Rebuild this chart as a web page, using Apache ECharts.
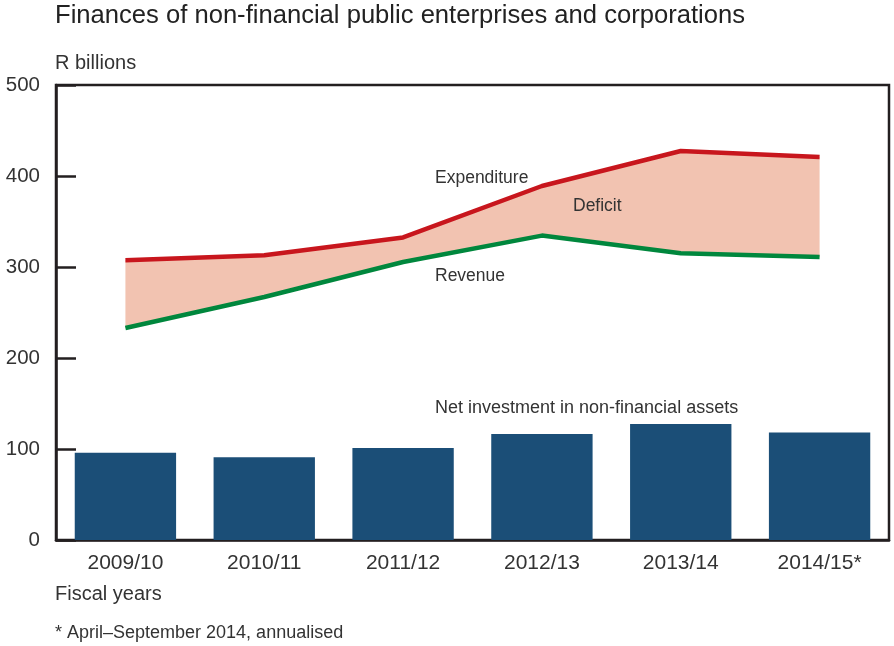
<!DOCTYPE html>
<html>
<head>
<meta charset="utf-8">
<script src="https://cdn.jsdelivr.net/npm/echarts@6/dist/echarts.min.js"></script>
<style>
  html, body { margin: 0; padding: 0; background: #fff; }
  #chart { width: 894px; height: 646px; }
</style>
</head>
<body>
<div id="chart"></div>
<script>
// Fiscal years on the category axis
var years = ['2009/10', '2010/11', '2011/12', '2012/13', '2013/14', '2014/15*'];
// R billions
var expenditure = [307.5, 313, 332.5, 389, 427.5, 421];
var revenue = [233, 267, 305.5, 334.5, 315, 311];
var netInvestment = [96, 91, 101, 116.5, 127.5, 118];
// Value-axis ticks
var yTicks = [0, 100, 200, 300, 400, 500];

// Deficit band = expenditure stacked on top of revenue
var deficit = expenditure.map(function (v, i) { return v - revenue[i]; });

var FONT = '"Liberation Sans", Arial, Helvetica, sans-serif';
var TEXT = '#333333';
var AXIS = '#231f20';

var chart = echarts.init(document.getElementById('chart'), null, { renderer: 'canvas' });

chart.setOption({
  animation: false,
  textStyle: { fontFamily: FONT },
  grid: {
    left: 56, right: 5, top: 85, bottom: 106,
    show: true, borderColor: AXIS, borderWidth: 2.5, backgroundColor: 'transparent'
  },
  xAxis: {
    type: 'category',
    data: years,
    boundaryGap: true,
    axisLine: { lineStyle: { color: AXIS, width: 2.5 } },
    axisTick: { inside: true, length: 10, lineStyle: { color: AXIS, width: 2.5 } },
    axisLabel: { color: TEXT, fontSize: 21, margin: 13, fontFamily: FONT },
    splitLine: { show: false }
  },
  yAxis: {
    type: 'value',
    min: yTicks[0],
    max: yTicks[yTicks.length - 1],
    interval: yTicks[1] - yTicks[0],
    axisLine: { show: true, lineStyle: { color: AXIS, width: 2.5 } },
    axisTick: { show: true, inside: true, length: 20, lineStyle: { color: AXIS, width: 2.5 } },
    axisLabel: { color: TEXT, fontSize: 20.5, margin: 16, fontFamily: FONT },
    splitLine: { show: false }
  },
  series: [
    {
      name: 'Net investment in non-financial assets',
      type: 'bar',
      data: netInvestment,
      barCategoryGap: '27%',
      itemStyle: { color: '#1b4e77' },
      z: 2
    },
    {
      name: 'base',
      type: 'line',
      stack: 'band',
      data: revenue,
      symbol: 'none',
      lineStyle: { opacity: 0 },
      areaStyle: { opacity: 0 },
      silent: true,
      z: 3
    },
    {
      name: 'Deficit',
      type: 'line',
      stack: 'band',
      data: deficit,
      symbol: 'none',
      lineStyle: { opacity: 0 },
      areaStyle: { color: '#f2c3b1', opacity: 1 },
      silent: true,
      z: 3
    },
    {
      name: 'Expenditure',
      type: 'line',
      data: expenditure,
      symbol: 'none',
      lineStyle: { color: '#c8161d', width: 4.5 },
      z: 5
    },
    {
      name: 'Revenue',
      type: 'line',
      data: revenue,
      symbol: 'none',
      lineStyle: { color: '#00873d', width: 4.5 },
      z: 5
    }
  ],
  graphic: [
    { type: 'text', left: 55, top: 3, style: { text: 'Finances of non-financial public enterprises and corporations', font: '25.6px ' + FONT, fill: '#222' } },
    { type: 'text', left: 55, top: 53, style: { text: 'R billions', font: '20px ' + FONT, fill: TEXT } },
    { type: 'text', left: 55, top: 584, style: { text: 'Fiscal years', font: '20px ' + FONT, fill: TEXT } },
    { type: 'text', left: 55, top: 624, style: { text: '* April\u2013September 2014, annualised', font: '18px ' + FONT, fill: TEXT } },
    { type: 'text', left: 435, top: 169, style: { text: 'Expenditure', font: '17.5px ' + FONT, fill: TEXT }, z: 10 },
    { type: 'text', left: 573, top: 197, style: { text: 'Deficit', font: '17.5px ' + FONT, fill: TEXT }, z: 10 },
    { type: 'text', left: 435, top: 267, style: { text: 'Revenue', font: '17.5px ' + FONT, fill: TEXT }, z: 10 },
    { type: 'text', left: 435, top: 399, style: { text: 'Net investment in non-financial assets', font: '18px ' + FONT, fill: TEXT }, z: 10 }
  ]
});
</script>
</body>
</html>
